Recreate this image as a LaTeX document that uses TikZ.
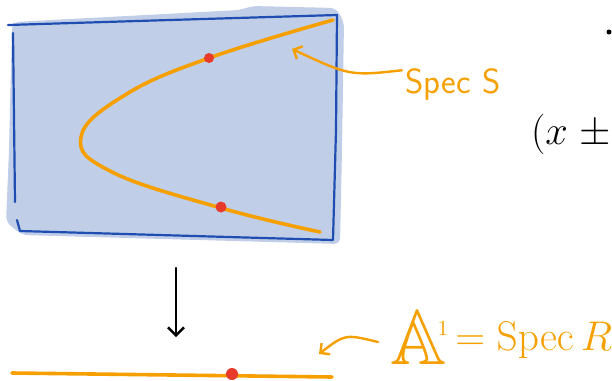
\documentclass[tikz,border=0pt]{standalone}
\usepackage{amssymb}
\usepackage{tikz}
\usetikzlibrary{arrows.meta,positioning}

\definecolor{schemefill}{RGB}{192,206,232}
\definecolor{schemeblue}{RGB}{31,77,178}
\definecolor{curveorange}{RGB}{245,160,0}
\definecolor{pointred}{RGB}{232,58,42}

\begin{document}
\begin{tikzpicture}[
x=1pt, y=-1pt,
box/.style={draw=schemeblue, line width=2.2pt, line cap=round, line join=round},
curve/.style={draw=curveorange, line width=3.6pt, line cap=round},
pointer/.style={draw=curveorange, line width=2.4pt, line cap=round, -{Straight Barb[length=7pt, width=14pt]}},
maparrow/.style={draw=black, line width=2.4pt, line cap=round, -{Straight Barb[length=8pt, width=16pt]}},
point/.style={fill=pointred},
orangetext/.style={text=curveorange, inner sep=2pt, font=\fontsize{20}{22}\selectfont}
]
\useasboundingbox (0,0) rectangle (612,380);

% the surface Spec S
\fill[schemefill, rounded corners=6pt] (14,22) -- (240,10) -- (252,6) -- (336,8) -- (344,22) -- (342,150) -- (340,244) -- (22,235) -- (6,222) -- (9,150) -- (12,26) -- cycle;
\draw[box] (8,25) -- (170,20) -- (337,15) -- (336,130) -- (333,240) -- (20,231) -- (17,220);
\draw[box] (13,33) -- (15,202);

\draw[curve] plot[smooth, tension=0.7] coordinates {(333,20) (209,58) (125,95) (81,137) (112,172) (221,208) (320,232)};
\fill[point] (209,58) circle (5pt);
\fill[point] (221,207) circle (5.5pt);

% the line A^1
\draw[curve] (12,373) -- (332,377);
\fill[point] (232,374) circle (6pt);

% labels
\node[orangetext, scale=1.75] (specS) at (453,84) {\sffamily Spec S};
\node[orangetext, anchor=west, scale=3.9] (affA) at (382,338) {$\mathbb{A}^{\!\scalebox{0.55}{$\scriptscriptstyle 1$}}$};
\node[orangetext, anchor=west, inner sep=0pt, scale=2.0] (specR) at (455,340) {$= \mathrm{Spec}\,R$};
\node[anchor=east, inner sep=0pt, scale=1.95, font=\fontsize{20}{22}\selectfont] (pm) at (611,134) {$(x\;\pm$};
\fill (609,32) circle (2.5pt);

\coordinate (onS) at (292,49);
\coordinate (onA) at (319,354);
\coordinate (top) at (176,268);
\coordinate (bottom) at (176,337);

\draw[pointer] (specS.165) .. controls (350,76) .. (onS);
\draw[pointer] ([xshift=-4pt, yshift=-4pt]affA.west) .. controls (345,334) .. (onA);
\draw[maparrow] (top) -- (bottom);

\end{tikzpicture}
\end{document}
